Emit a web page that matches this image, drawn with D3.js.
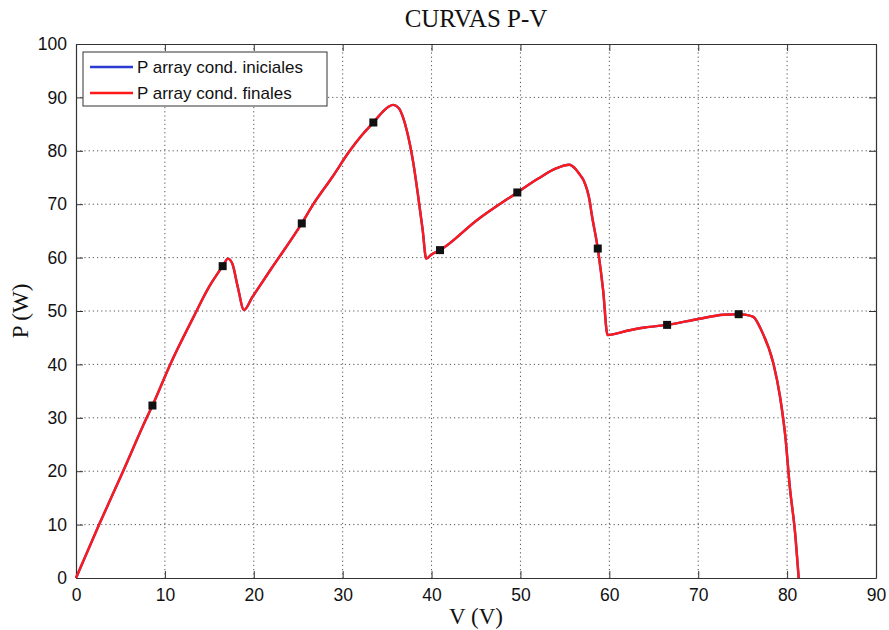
<!DOCTYPE html>
<html>
<head>
<meta charset="utf-8">
<script src="https://cdn.jsdelivr.net/npm/d3@7"></script>
<style>
  body { margin: 0; background: #fff; }
  svg { display: block; }
</style>
</head>
<body>
<div id="chart"></div>
<script>
// P-V curve (both series overlap, "iniciales" lies under "finales")
const voltage = [0, 2.6, 5.3, 7.95, 8.6, 10.6, 13.2, 15.0, 16.5, 17.1, 17.6, 18.2, 18.9, 19.8, 22, 25.4,
  26.7, 28.8, 30.8, 32.2, 33.45, 34.5, 35.2, 35.7, 36.3, 36.8, 37.2, 37.95, 38.5, 39.0, 39.4, 40.0,
  40.95, 45.1, 49.65, 52, 54, 55.5, 56.2, 56.7, 57.1, 57.8, 58.0, 58.7, 59.3, 59.8, 62, 64, 66.5,
  70, 72.8, 74.55, 75.3, 76.2, 77.1, 78.45, 79.2, 79.8, 80.3, 80.9, 81.3];
const powerFinal = [0, 10, 20, 30, 32.3, 40, 48.8, 54.6, 58.4, 59.8, 58.8, 54.5, 50.2, 52.5, 58, 66.4,
  70, 75, 80, 83, 85.3, 87.3, 88.3, 88.6, 88, 86.2, 83.9, 77.7, 71.4, 65.2, 59.8, 60.6,
  61.4, 67, 72.2, 74.8, 76.7, 77.4, 76.6, 75.5, 74.5, 70.5, 68.3, 61.7, 53.9, 45.5, 46.3, 46.9, 47.4,
  48.5, 49.3, 49.4, 49.3, 48.9, 46.4, 40.2, 34.0, 26.5, 17.1, 8.4, 0];
const powerInitial = powerFinal.slice();

// square markers along the curve
const markerV = [8.6, 16.5, 25.4, 33.45, 40.95, 49.65, 58.7, 66.5, 74.55];
const markerP = [32.3, 58.4, 66.4, 85.3, 61.4, 72.2, 61.7, 47.4, 49.4];

const xTicks = [0, 10, 20, 30, 40, 50, 60, 70, 80, 90];
const yTicks = [0, 10, 20, 30, 40, 50, 60, 70, 80, 90, 100];
const legendLabels = ['P array cond. iniciales', 'P array cond. finales'];
const seriesColors = ['#2b3bd0', '#ff1a1a'];

const W = 889, H = 630;
const margin = { top: 44, right: 13, bottom: 52, left: 76 };
const width = W - margin.left - margin.right;
const height = H - margin.top - margin.bottom;

const svg = d3.select('#chart').append('svg')
  .attr('width', W)
  .attr('height', H);

const g = svg.append('g')
  .attr('transform', `translate(${margin.left},${margin.top})`);

const x = d3.scaleLinear().domain([0, 90]).range([0, width]);
const y = d3.scaleLinear().domain([0, 100]).range([height, 0]);

// dotted grid
g.append('g')
  .selectAll('line')
  .data(xTicks.slice(1, -1))
  .enter().append('line')
  .attr('x1', d => x(d)).attr('x2', d => x(d))
  .attr('y1', 0).attr('y2', height)
  .attr('stroke', '#555')
  .attr('stroke-width', 1)
  .attr('stroke-dasharray', '1.2,3');
g.append('g')
  .selectAll('line')
  .data(yTicks.slice(1, -1))
  .enter().append('line')
  .attr('x1', 0).attr('x2', width)
  .attr('y1', d => y(d)).attr('y2', d => y(d))
  .attr('stroke', '#555')
  .attr('stroke-width', 1)
  .attr('stroke-dasharray', '1.2,3');

// axes (matlab style box, ticks inward)
const tickFont = 'Arial, "Liberation Sans", sans-serif';
const xAxis = g.append('g')
  .attr('transform', `translate(0,${height})`)
  .call(d3.axisBottom(x).tickValues(xTicks).tickSizeInner(-7).tickSizeOuter(0).tickPadding(12));
const yAxis = g.append('g')
  .call(d3.axisLeft(y).tickValues(yTicks).tickSizeInner(-7).tickSizeOuter(0).tickPadding(9));
g.append('g')
  .call(d3.axisTop(x).tickValues(xTicks).tickSizeInner(-7).tickSizeOuter(0).tickFormat(''));
g.append('g')
  .attr('transform', `translate(${width},0)`)
  .call(d3.axisRight(y).tickValues(yTicks).tickSizeInner(-7).tickSizeOuter(0).tickFormat(''));

g.selectAll('.domain').attr('stroke', '#333').attr('stroke-width', 1.2);
g.selectAll('.tick line').attr('stroke', '#333');
[xAxis, yAxis].forEach(a => a.selectAll('text')
  .style('font-family', tickFont)
  .style('font-size', '17.5px')
  .attr('fill', '#111'));
xAxis.selectAll('text').attr('dy', '0.6em');

// curves
const line = d3.line()
  .curve(d3.curveMonotoneX)
  .x(d => x(d[0]))
  .y(d => y(d[1]));

const series = [powerInitial, powerFinal];
series.forEach((vals, i) => {
  g.append('path')
    .datum(voltage.map((v, k) => [v, vals[k]]))
    .attr('fill', 'none')
    .attr('stroke', seriesColors[i])
    .attr('stroke-width', 2.4)
    .attr('stroke-linejoin', 'round')
    .attr('d', line);
});

// markers
g.selectAll('rect.marker')
  .data(markerV.map((v, k) => [v, markerP[k]]))
  .enter().append('rect')
  .attr('class', 'marker')
  .attr('x', d => x(d[0]) - 4)
  .attr('y', d => y(d[1]) - 4)
  .attr('width', 8)
  .attr('height', 8)
  .attr('fill', '#111');

// legend
const legend = g.append('g').attr('transform', 'translate(7,8)');
legend.append('rect')
  .attr('width', 244)
  .attr('height', 54)
  .attr('fill', '#fff')
  .attr('stroke', '#333')
  .attr('stroke-width', 1);
legendLabels.forEach((lab, i) => {
  const row = legend.append('g').attr('transform', `translate(0,${15 + i * 26})`);
  row.append('line')
    .attr('x1', 7).attr('x2', 50)
    .attr('stroke', seriesColors[i])
    .attr('stroke-width', 2.4);
  row.append('text')
    .attr('x', 54)
    .attr('dy', '0.36em')
    .style('font-family', tickFont)
    .style('font-size', '17px')
    .attr('fill', '#111')
    .text(lab);
});

// titles
const serif = '"Liberation Serif", "Times New Roman", serif';
svg.append('text')
  .attr('x', margin.left + width / 2)
  .attr('y', 27)
  .attr('text-anchor', 'middle')
  .style('font-family', serif)
  .style('font-size', '25px')
  .attr('fill', '#111')
  .text('CURVAS P-V');

svg.append('text')
  .attr('x', margin.left + width / 2)
  .attr('y', 624)
  .attr('text-anchor', 'middle')
  .style('font-family', serif)
  .style('font-size', '23px')
  .attr('fill', '#111')
  .text('V (V)');

svg.append('text')
  .attr('transform', `translate(28,${margin.top + height / 2}) rotate(-90)`)
  .attr('text-anchor', 'middle')
  .style('font-family', serif)
  .style('font-size', '23px')
  .attr('fill', '#111')
  .text('P (W)');
</script>
</body>
</html>
